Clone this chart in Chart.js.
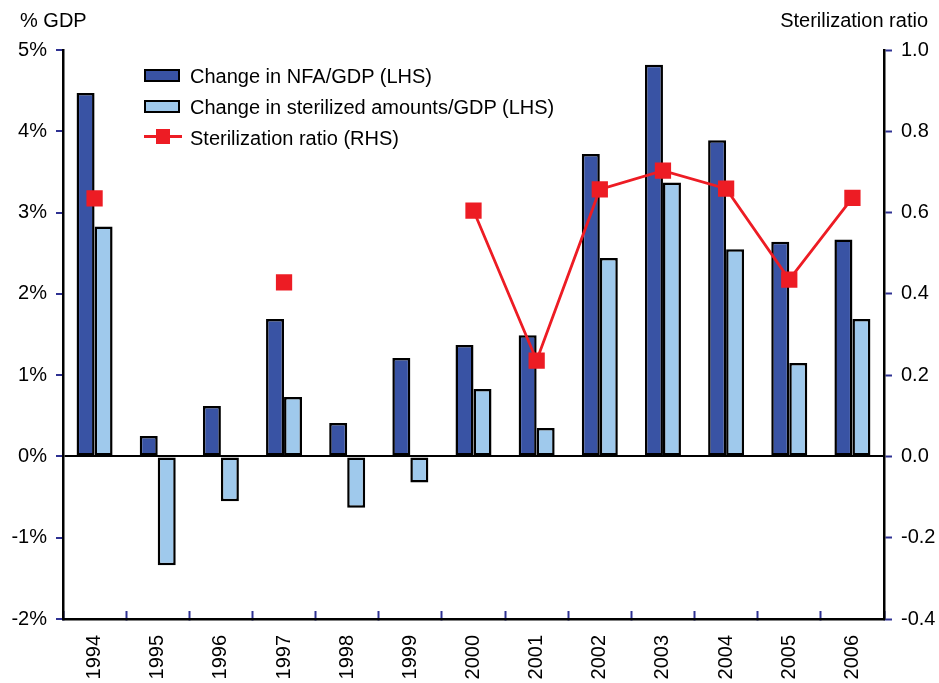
<!DOCTYPE html>
<html>
<head>
<meta charset="utf-8">
<script src="https://cdn.jsdelivr.net/npm/chart.js@4/dist/chart.umd.min.js"></script>
<style>
  html, body { margin: 0; padding: 0; background: #fff; }
  #wrap { position: relative; width: 939px; height: 683px; font-family: "Liberation Sans", Arial, sans-serif; color: #000; }
  canvas { position: absolute; left: 0; top: 0; }
  .ttl { position: absolute; font-size: 20px; line-height: 22px; white-space: nowrap; }
  #legend { position: absolute; left: 144px; top: 64px; font-size: 20px; }
  .row { position: relative; height: 31px; line-height: 24px; white-space: nowrap; }
  .row .sw { position: absolute; left: 0; top: 5px; width: 32px; height: 9px; border: 2.5px solid #000; }
  .row .txt { position: absolute; left: 46px; top: 0; }
  .row .ln { position: absolute; left: 0; top: 9px; width: 38px; height: 3px; background: #ed1c24; }
  .row .sq { position: absolute; left: 12px; top: 3px; width: 14px; height: 15px; background: #ed1c24; }
</style>
</head>
<body>
<div id="wrap">
  <canvas id="c" width="939" height="683"></canvas>
  <div class="ttl" style="left:20px; top:9px;">% GDP</div>
  <div class="ttl" style="right:11px; top:9px;">Sterilization ratio</div>
  <div id="legend">
    <div class="row"><span class="sw" style="background:#3953a4"></span><span class="txt">Change in NFA/GDP (LHS)</span></div>
    <div class="row"><span class="sw" style="background:#9fc9ec"></span><span class="txt">Change in sterilized amounts/GDP (LHS)</span></div>
    <div class="row"><span class="ln"></span><span class="sq"></span><span class="txt">Sterilization ratio (RHS)</span></div>
  </div>
</div>
<script>
const years = ['1994','1995','1996','1997','1998','1999','2000','2001','2002','2003','2004','2005','2006'];
const nfaChange = [4.47, 0.25, 0.62, 1.69, 0.41, 1.21, 1.37, 1.49, 3.72, 4.82, 3.89, 2.64, 2.67];
const sterilizedChange = [2.83, -1.34, -0.55, 0.73, -0.63, -0.32, 0.83, 0.35, 2.44, 3.37, 2.55, 1.15, 1.69];
const sterilizationRatio = [0.635, null, null, 0.428, null, null, 0.605, 0.236, 0.657, 0.703, 0.659, 0.435, 0.636];
const leftTicks = [-2, -1, 0, 1, 2, 3, 4, 5];
const rightTicks = [-0.4, -0.2, 0.0, 0.2, 0.4, 0.6, 0.8, 1.0];

const NAVY = '#2e3192';
const FONT = { family: '"Liberation Sans", Arial, sans-serif', size: 20 };

new Chart(document.getElementById('c'), {
  type: 'bar',
  data: {
    labels: years,
    datasets: [
      {
        type: 'line', label: 'Sterilization ratio (RHS)', data: sterilizationRatio, yAxisID: 'y1',
        borderColor: '#ed1c24', backgroundColor: '#ed1c24', borderWidth: 2.8,
        pointStyle: 'rect', pointRadius: 11.5, pointBorderWidth: 0, pointBackgroundColor: '#ed1c24',
        spanGaps: false, order: 0, tension: 0
      },
      {
        label: 'Change in NFA/GDP (LHS)', data: nfaChange, yAxisID: 'y',
        backgroundColor: '#3953a4', borderColor: '#000', borderWidth: 2.5, borderSkipped: false,
        categoryPercentage: 0.57, barPercentage: 1.0, order: 1
      },
      {
        label: 'Change in sterilized amounts/GDP (LHS)', data: sterilizedChange, yAxisID: 'y',
        backgroundColor: '#9fc9ec', borderColor: '#000', borderWidth: 2.5, borderSkipped: false,
        categoryPercentage: 0.57, barPercentage: 1.0, order: 1
      }
    ]
  },
  options: {
    responsive: false,
    animation: false,
    layout: { padding: { top: 50, left: 0, right: 0, bottom: 0 } },
    plugins: { legend: { display: false }, tooltip: { enabled: false } },
    scales: {
      x: {
        offset: true,
        grid: { offset: true, drawOnChartArea: false, tickLength: -8, tickColor: NAVY, tickWidth: 2 },
        border: { color: '#000', width: 2.5 },
        ticks: { color: '#000', font: FONT, minRotation: 90, maxRotation: 90, padding: 24, autoSkip: false },
        afterFit: s => { s.height = 64; }
      },
      y: {
        position: 'left', min: -2, max: 5,
        afterBuildTicks: s => { s.ticks = leftTicks.map(v => ({ value: v })); },
        grid: {
          drawOnChartArea: true,
          color: c => (c.tick && c.tick.value === 0) ? '#000' : 'rgba(0,0,0,0)',
          lineWidth: c => (c.tick && c.tick.value === 0) ? 2 : 0,
          tickLength: 7, tickColor: NAVY, tickWidth: 2
        },
        border: { color: '#000', width: 2.5 },
        ticks: { color: '#000', font: FONT, padding: 9, callback: v => v + '%' },
        afterFit: s => { s.width = 63; }
      },
      y1: {
        position: 'right', min: -0.4, max: 1.0,
        afterBuildTicks: s => { s.ticks = rightTicks.map(v => ({ value: v })); },
        grid: { drawOnChartArea: false, tickLength: 8, tickColor: NAVY, tickWidth: 2 },
        border: { color: '#000', width: 2.5 },
        ticks: { color: '#000', font: FONT, padding: 9, callback: v => Number(v).toFixed(1) },
        afterFit: s => { s.width = 55; }
      }
    }
  }
});
</script>
</body>
</html>
